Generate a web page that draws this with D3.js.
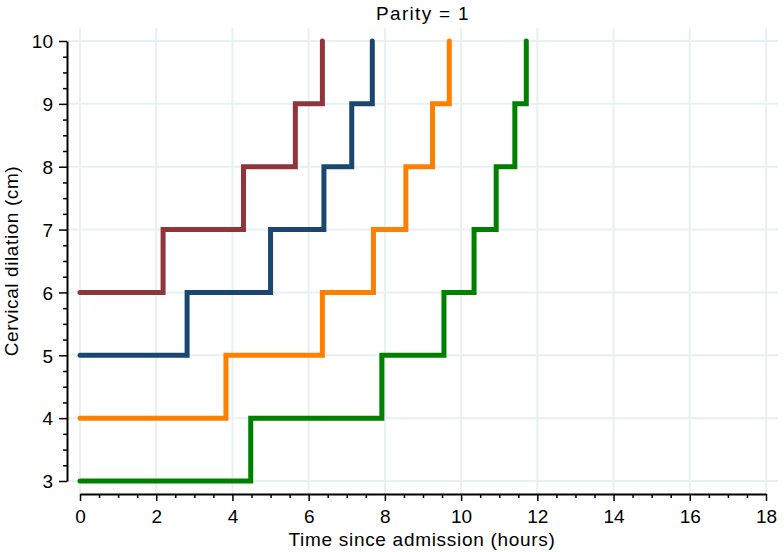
<!DOCTYPE html>
<html lang="en"><head>
  <meta charset="utf-8">
  <title>Parity = 1</title>
  <script src="https://cdn.jsdelivr.net/npm/d3@7"></script>
  <style>
   body { margin: 0; background: white; }
   text { font-family: "Liberation Sans", Arial, sans-serif; fill: black; }
  </style>
</head>
<body>
  <script>
   // step times (hours) at which each curve rises by 1 cm, starting at t = 0
   var maroonTimes = [0, 2.18, 4.29, 5.65, 6.36];
   var navyTimes   = [0, 2.81, 5.00, 6.40, 7.13, 7.67];
   var orangeTimes = [0, 3.83, 6.36, 7.70, 8.55, 9.25, 9.69];
   var greenTimes  = [0, 4.48, 7.92, 9.55, 10.34, 10.92, 11.41, 11.71];
   var startDilation = [6, 5, 4, 3];
   var seriesColors = ["#90353b", "#1a476f", "#ff7f00", "#008000"];
   var xTicks = [0, 2, 4, 6, 8, 10, 12, 14, 16, 18];
   var yTicks = [3, 4, 5, 6, 7, 8, 9, 10];

   var width = 784, height = 552;
   var plotLeft = 80, plotRight = 766, plotTop = 41, plotBottom = 481;

   var x = d3.scaleLinear().domain([0, 18]).range([plotLeft, plotRight]);
   var y = d3.scaleLinear().domain([3, 10]).range([plotBottom, plotTop]);

   var svg = d3.select("body").append("svg")
               .attr("width", width)
               .attr("height", height);

   // grid
   var grid = svg.append("g").attr("stroke", "#e8f0f2").attr("stroke-width", 2);
   grid.selectAll(".vg").data(xTicks).enter().append("line")
       .attr("x1", function(d) { return x(d); })
       .attr("x2", function(d) { return x(d); })
       .attr("y1", 28).attr("y2", 494);
   grid.selectAll(".hg").data(yTicks).enter().append("line")
       .attr("y1", function(d) { return y(d); })
       .attr("y2", function(d) { return y(d); })
       .attr("x1", 67).attr("x2", 778);

   // axes
   var minorX = d3.range(0, 18.01, 0.5).filter(function(d) { return d % 2 != 0; });
   var minorY = d3.range(3, 10.01, 0.25).filter(function(d) { return d % 1 != 0; });

   var xAxis = svg.append("g")
      .attr("transform", "translate(0,494)")
      .call(d3.axisBottom(x).tickValues(xTicks).tickFormat(d3.format("d"))
              .tickSize(7).tickPadding(5).tickSizeOuter(0));
   svg.append("g")
      .attr("transform", "translate(0,494)")
      .call(d3.axisBottom(x).tickValues(minorX).tickSize(4).tickFormat("").tickSizeOuter(0))
      .select(".domain").remove();

   var yAxis = svg.append("g")
      .attr("transform", "translate(67,0)")
      .call(d3.axisLeft(y).tickValues(yTicks).tickFormat(d3.format("d"))
              .tickSize(8).tickPadding(6).tickSizeOuter(0));
   svg.append("g")
      .attr("transform", "translate(67,0)")
      .call(d3.axisLeft(y).tickValues(minorY).tickSize(4).tickFormat("").tickSizeOuter(0))
      .select(".domain").remove();

   svg.selectAll("g").attr("font-size", null).attr("font-family", null);
   svg.selectAll(".domain").attr("stroke", "black").attr("stroke-width", 2);
   svg.selectAll(".tick line").attr("stroke", "black").attr("stroke-width", 1.5);
   svg.selectAll(".tick text").style("font-size", "19px").attr("fill", "black");
   xAxis.selectAll(".tick text").attr("dy", "0.9em");
   yAxis.selectAll(".tick text").attr("dy", "0.36em");

   // lines
   var allTimes = [maroonTimes, navyTimes, orangeTimes, greenTimes];
   var line = d3.line()
                .x(function(d) { return x(d[0]); })
                .y(function(d) { return y(d[1]); })
                .curve(d3.curveStepAfter);

   allTimes.forEach(function(times, i) {
     var pts = times.map(function(t, j) { return [t, startDilation[i] + j]; });
     // final rise to 10 cm at the last time
     pts.push([times[times.length - 1], 10]);
     svg.append("path")
        .datum(pts)
        .attr("d", line)
        .attr("fill", "none")
        .attr("stroke", seriesColors[i])
        .attr("stroke-width", 5)
        .attr("stroke-linecap", "round")
        .attr("stroke-linejoin", "miter");
   });

   // titles
   svg.append("text")
      .attr("x", (plotLeft + plotRight) / 2)
      .attr("y", 20)
      .attr("text-anchor", "middle")
      .style("font-size", "19px")
      .style("letter-spacing", "1.3px")
      .text("Parity = 1");

   svg.append("text")
      .attr("x", (plotLeft + plotRight) / 2 - 1)
      .attr("y", 546)
      .attr("text-anchor", "middle")
      .style("font-size", "19px")
      .style("letter-spacing", "0.7px")
      .text("Time since admission (hours)");

   svg.append("text")
      .attr("transform", "translate(18," + ((plotTop + plotBottom) / 2) + ") rotate(-90)")
      .attr("text-anchor", "middle")
      .style("font-size", "19px")
      .style("letter-spacing", "0.6px")
      .text("Cervical dilation (cm)");
  </script>
</body></html>
